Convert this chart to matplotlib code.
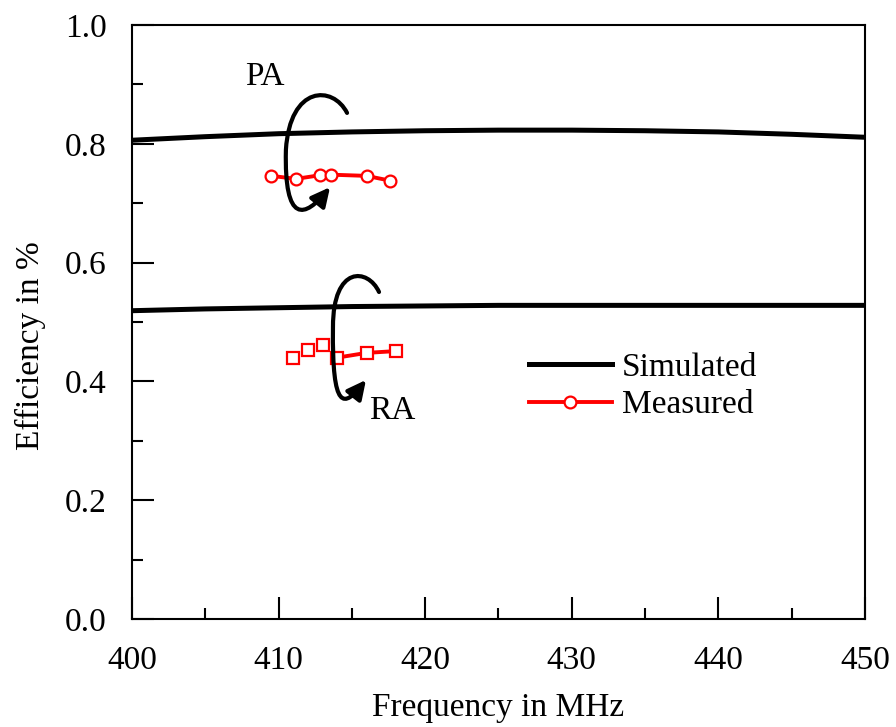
import matplotlib
matplotlib.use("Agg")
import matplotlib.pyplot as plt
from matplotlib.path import Path
from matplotlib.patches import FancyArrowPatch
from matplotlib.ticker import MultipleLocator

plt.rcParams['font.family'] = ['Liberation Serif', 'DejaVu Serif']

# Simulated efficiency curves (MHz vs efficiency)
sim_freq = [400, 405, 410, 415, 420, 425, 430, 435, 440, 445, 450]
sim_pa = [0.806, 0.812, 0.817, 0.820, 0.822, 0.823, 0.823, 0.822, 0.820, 0.816, 0.811]
sim_ra = [0.519, 0.522, 0.524, 0.526, 0.527, 0.528, 0.528, 0.528, 0.528, 0.528, 0.528]

# Measured efficiency
meas_pa_freq = [409.5, 411.2, 412.8, 413.6, 416.0, 417.6]
meas_pa = [0.746, 0.741, 0.747, 0.748, 0.746, 0.738]
meas_ra_freq = [411.0, 412.0, 413.0, 414.0, 416.0, 418.0]
meas_ra = [0.440, 0.452, 0.461, 0.440, 0.448, 0.451]

FS = 24

fig = plt.figure(figsize=(8.96, 7.27), dpi=100)
ax = fig.add_axes([0.1473, 0.1486, 0.8181, 0.817])

ax.plot(sim_freq, sim_pa, color='black', lw=3.6, label='Simulated', zorder=3)
ax.plot(sim_freq, sim_ra, color='black', lw=3.6, zorder=3)

ax.plot(meas_pa_freq, meas_pa, color='red', lw=2.8, marker='o', ms=8.5,
        mfc='white', mec='red', mew=1.6, label='Measured', zorder=4)
# RA: first three points as markers only, the rest joined by a line
ax.plot(meas_ra_freq[:3], meas_ra[:3], ls='none', marker='s', ms=8.5,
        mfc='white', mec='red', mew=1.6, zorder=4)
ax.plot(meas_ra_freq[3:], meas_ra[3:], color='red', lw=2.8, marker='s', ms=8.5,
        mfc='white', mec='red', mew=1.6, zorder=4)

# Curved arrows marking each group
def loop_arrow(pts):
    codes = [Path.MOVETO] + [Path.CURVE4] * 6
    arr = FancyArrowPatch(path=Path(pts, codes), arrowstyle='-|>',
                          mutation_scale=28, lw=3.0, color='black',
                          transform=ax.transData, zorder=5)
    ax.add_patch(arr)

loop_arrow([(414.67, 0.852), (413.71, 0.899), (410.78, 0.899), (410.50, 0.790),
            (410.37, 0.663), (411.80, 0.675), (413.51, 0.727)])
loop_arrow([(416.85, 0.5505), (416.10, 0.591), (413.71, 0.596), (413.71, 0.4916),
            (413.64, 0.3485), (414.46, 0.3552), (415.96, 0.4024)])

ax.text(409.07, 0.913, 'PA', fontsize=FS, ha='center', va='center')
ax.text(417.74, 0.350, 'RA', fontsize=FS, ha='center', va='center')

ax.set_xlim(400, 450)
ax.set_ylim(0, 1.0)
ax.xaxis.set_major_locator(MultipleLocator(10))
ax.xaxis.set_minor_locator(MultipleLocator(5))
ax.yaxis.set_major_locator(MultipleLocator(0.2))
ax.yaxis.set_minor_locator(MultipleLocator(0.1))
ax.yaxis.set_major_formatter(plt.FuncFormatter(lambda v, p: f'{v:.1f}'))

ax.tick_params(which='both', direction='in', top=False, right=False,
               width=1.5, labelsize=FS)
ax.tick_params(which='major', length=16)
ax.tick_params(which='minor', length=8)
ax.tick_params(axis='x', which='major', pad=19)
ax.tick_params(axis='y', which='major', pad=18)
for s in ax.spines.values():
    s.set_linewidth(1.5)

ax.set_xlabel('Frequency in MHz', fontsize=FS, labelpad=12)
ax.set_ylabel('Efficiency in %', fontsize=FS)
ax.yaxis.set_label_coords(-0.1175, 0.461)

ax.legend(loc='upper left', bbox_to_anchor=(0.523, 0.471), frameon=False,
          fontsize=FS, handlelength=2.5, handletextpad=0.3, labelspacing=0.2,
          borderaxespad=0)

fig.savefig('out.png', dpi=100)
